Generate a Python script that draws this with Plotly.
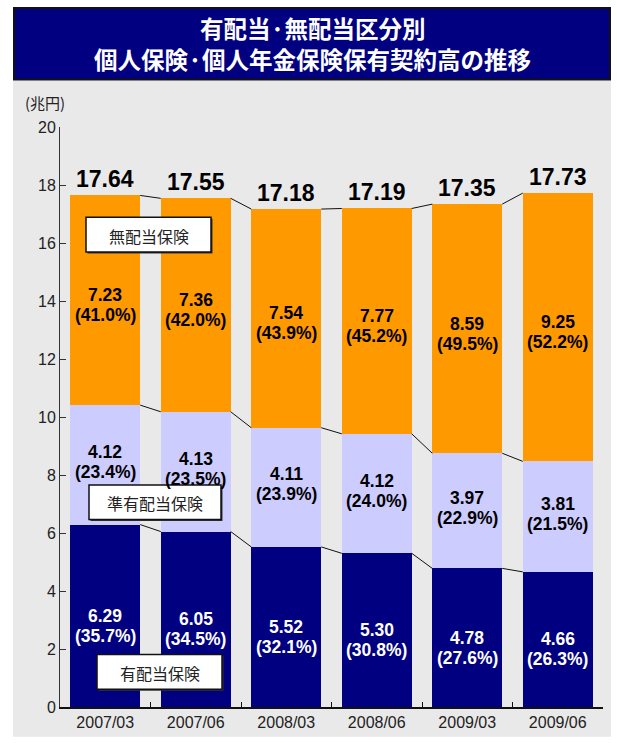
import plotly.graph_objects as go

# 保有契約高（兆円）
periods = ["2007/03", "2007/06", "2008/03", "2008/06", "2009/03", "2009/06"]
dividend = [6.29, 6.05, 5.52, 5.30, 4.78, 4.66]           # 有配当保険
semi_dividend = [4.12, 4.13, 4.11, 4.12, 3.97, 3.81]      # 準有配当保険
non_dividend = [7.23, 7.36, 7.54, 7.77, 8.59, 9.25]       # 無配当保険
dividend_pct = [35.7, 34.5, 32.1, 30.8, 27.6, 26.3]
semi_dividend_pct = [23.4, 23.5, 23.9, 24.0, 22.9, 21.5]
non_dividend_pct = [41.0, 42.0, 43.9, 45.2, 49.5, 52.2]
totals = [17.64, 17.55, 17.18, 17.19, 17.35, 17.73]
y_ticks = list(range(0, 21, 2))
title_lines = ["有配当·無配当区分別", "個人保険·個人年金保険保有契約高の推移"]

NAVY = "#000080"
LAVENDER = "#CCCCFF"
ORANGE = "#FF9900"
PANEL = "#E9E9E9"
NUM_FONT = "Liberation Sans, Arial, sans-serif"
JP_FONT = "Noto Sans CJK JP"

W, H = 617, 743
ML, MR, MT, MB = 60, 14, 127, 31
BARGAP = 0.227
LINE_GAP = 20  # 値と構成比の行間(px)


def px_x(p):
    return (p - ML) / (W - ML - MR)


def px_y(p):
    return (H - MB - p) / (H - MT - MB)


fig = go.Figure()

# (値, 構成比, 色, 文字色, 名前, ラベルの縦ずらし[px])
series = [
    (dividend, dividend_pct, NAVY, "white", "有配当保険", -10),
    (semi_dividend, semi_dividend_pct, LAVENDER, "black", "準有配当保険", 3),
    (non_dividend, non_dividend_pct, ORANGE, "black", "無配当保険", -5),
]

for vals, _, color, _, name, _ in series:
    fig.add_trace(go.Bar(
        x=periods, y=vals, name=name,
        marker=dict(color=color, line=dict(width=0)),
        hoverinfo="skip",
    ))

annotations = []
shapes = []

# 区分ごとの値と構成比
base = [0.0] * len(periods)
levels = []
for vals, pcts, _, txt_color, _, shift in series:
    for i, p in enumerate(periods):
        mid = base[i] + vals[i] / 2
        for text, dy in ((f"<b>{vals[i]:.2f}</b>", LINE_GAP / 2),
                         (f"<b>({pcts[i]:.1f}%)</b>", -LINE_GAP / 2)):
            annotations.append(dict(
                x=p, y=mid, xref="x", yref="y", yshift=shift + dy,
                xanchor="center", yanchor="middle", text=text, showarrow=False,
                font=dict(family=NUM_FONT, size=17.5, color=txt_color),
            ))
    base = [b + v for b, v in zip(base, vals)]
    levels.append(list(base))

# 合計値
for i, p in enumerate(periods):
    annotations.append(dict(
        x=p, y=levels[-1][i], xref="x", yref="y", yshift=16,
        xanchor="center", yanchor="middle",
        text=f"<b>{totals[i]:.2f}</b>", showarrow=False,
        font=dict(family=NUM_FONT, size=23, color="black"),
    ))

# 棒の区切りをつなぐ線
half = (1 - BARGAP) / 2
for lvl in levels:
    for i in range(len(periods) - 1):
        shapes.append(dict(
            type="line", xref="x", yref="y",
            x0=i + half, y0=lvl[i], x1=i + 1 - half, y1=lvl[i + 1],
            line=dict(color="#111111", width=1),
        ))

# 背景パネルとタイトル枠
shapes.append(dict(
    type="rect", xref="paper", yref="paper", layer="below",
    x0=px_x(13), x1=px_x(611), y0=px_y(742), y1=px_y(80),
    fillcolor=PANEL, line=dict(width=0),
))
shapes.append(dict(
    type="rect", xref="paper", yref="paper",
    x0=px_x(14), x1=px_x(610), y0=px_y(79), y1=px_y(7),
    fillcolor=NAVY, line=dict(color="#111111", width=2),
))
for line, ypx in zip(title_lines, (27.5, 58.5)):
    annotations.append(dict(
        x=px_x(312), y=px_y(ypx), xref="paper", yref="paper",
        xanchor="center", yanchor="middle",
        text=f"<b>{line}</b>", showarrow=False,
        font=dict(family=JP_FONT, size=23.5, color="white"),
    ))

# 単位
annotations.append(dict(
    x=px_x(45), y=px_y(102), xref="paper", yref="paper",
    xanchor="center", yanchor="middle",
    text="(兆円)", showarrow=False,
    font=dict(family=JP_FONT, size=15, color="#222222"),
))

# 区分名ラベル
label_boxes = [
    ("無配当保険", 86, 211, 218, 253),
    ("準有配当保険", 89, 221, 488, 523),
    ("有配当保険", 97, 222, 659, 694),
]
for text, x0, x1, y0, y1 in label_boxes:
    shapes.append(dict(
        type="rect", xref="paper", yref="paper",
        x0=px_x(x0 + 1.5), x1=px_x(x1 + 1.5), y0=px_y(y1 + 1.5), y1=px_y(y0 + 1.5),
        fillcolor="#333333", line=dict(width=0),
    ))
    shapes.append(dict(
        type="rect", xref="paper", yref="paper",
        x0=px_x(x0), x1=px_x(x1), y0=px_y(y1), y1=px_y(y0),
        fillcolor="white", line=dict(color="#111111", width=1.5),
    ))
    annotations.append(dict(
        x=px_x((x0 + x1) / 2), y=px_y((y0 + y1) / 2 + 1), xref="paper", yref="paper",
        xanchor="center", yanchor="middle",
        text=text, showarrow=False,
        font=dict(family=JP_FONT, size=16, color="#222222"),
    ))

fig.update_layout(
    width=W, height=H,
    margin=dict(l=ML, r=MR, t=MT, b=MB, pad=0),
    barmode="stack", bargap=BARGAP,
    paper_bgcolor="white", plot_bgcolor="rgba(0,0,0,0)",
    showlegend=False,
    shapes=shapes, annotations=annotations,
    xaxis=dict(
        type="category", tickson="boundaries", ticks="inside", ticklen=5,
        tickcolor="#111111", showline=True, linecolor="#111111", linewidth=1.5,
        showgrid=False, tickfont=dict(family=NUM_FONT, size=16, color="#222222"),
        range=[-0.5, len(periods) - 0.5], fixedrange=True,
    ),
    yaxis=dict(
        range=[0, 20], tickvals=y_ticks, ticks="inside", ticklen=6,
        tickcolor="#333333", showline=True, linecolor="#333333", linewidth=1,
        showgrid=False, zeroline=False,
        tickfont=dict(family=NUM_FONT, size=16, color="#222222"),
        fixedrange=True,
    ),
)

fig.write_html("out.html")
